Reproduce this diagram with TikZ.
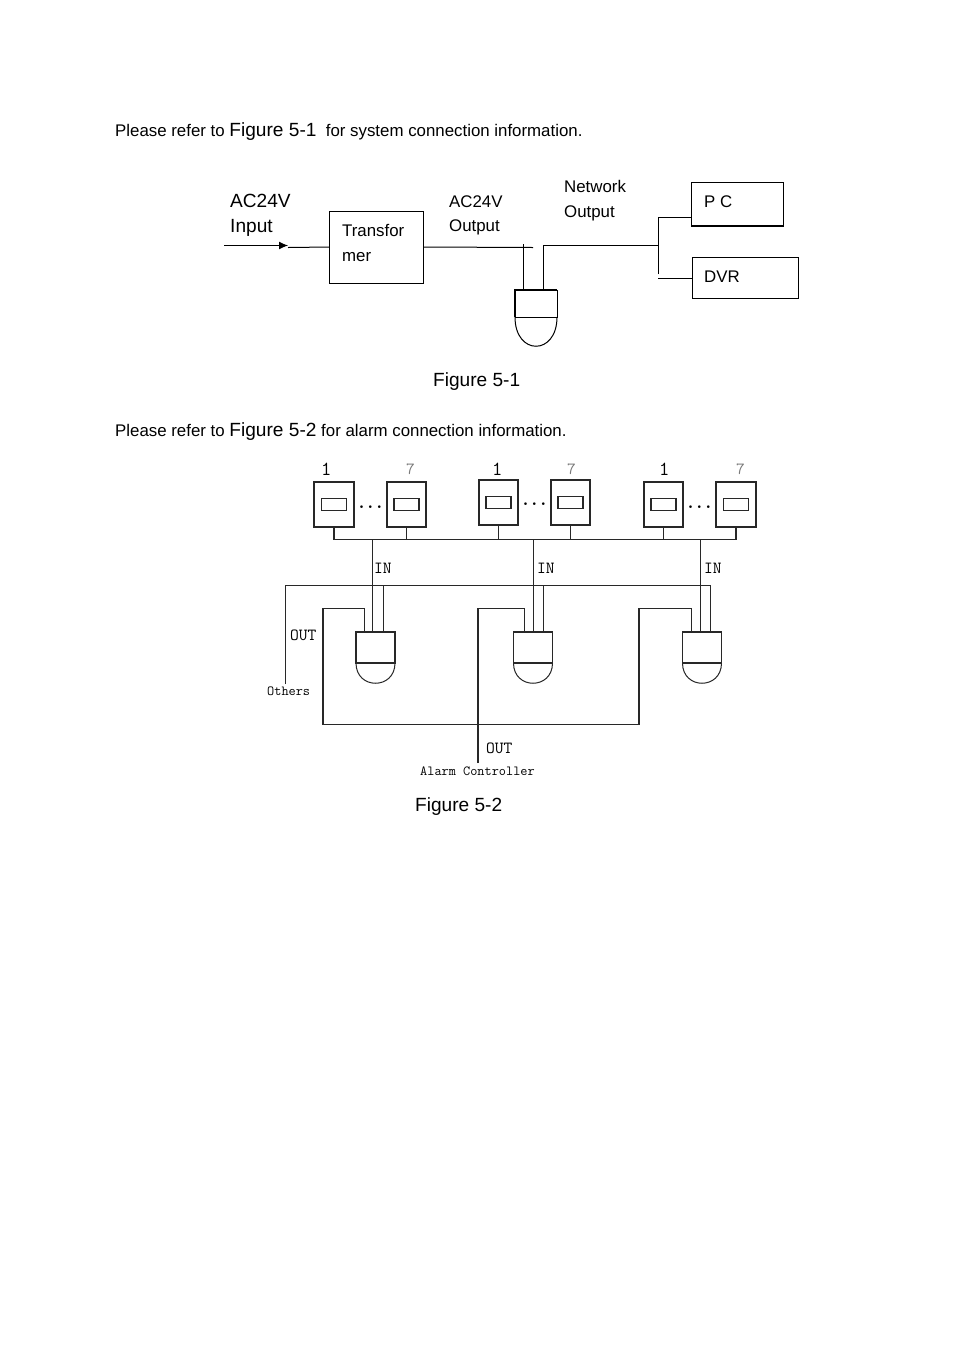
\documentclass[tikz,border=0pt]{standalone}
\usepackage{fontspec}
\usepackage{xcolor}
\usetikzlibrary{arrows.meta}
\setmainfont{Liberation Sans}
\definecolor{wire}{RGB}{40,40,40}
\definecolor{faint}{RGB}{120,120,120}
\newcommand{\bodysize}{\fontsize{16.85}{20}\selectfont}
\newcommand{\capsize}{\fontsize{19.1}{23}\selectfont}
\tikzset{
  box/.style={draw,inner sep=0pt,outer sep=0pt,line width=1pt},
  sensor/.style={box,wire,line width=1.3pt,minimum height=45},
  slot/.style={box,wire,line width=1.3pt,minimum width=25,minimum height=11.5},
  head/.style={box,wire,line width=1.3pt,minimum width=39,minimum height=31},
  wiring/.style={wire,line width=1.3pt},
  txt/.style={inner sep=0pt,anchor=base west,font=\bodysize},
  big/.style={inner sep=0pt,anchor=base west,font=\capsize},
  bitmap/.style={inner sep=0pt,anchor=base west,font=\ttfamily\fontsize{17}{20}\selectfont},
  digit/.style={inner sep=0pt,anchor=base west,font=\ttfamily\fontsize{20}{22}\selectfont},
  tiny/.style={inner sep=0pt,anchor=base west,font=\ttfamily\fontsize{13.9}{16}\selectfont},
  dots/.style={inner sep=0pt,font=\fontsize{19}{20}\selectfont\boldmath}
}

\begin{document}
\begin{tikzpicture}[x=1pt,y=-1pt]
\useasboundingbox[fill=white] (0,0) rectangle (954,1350);

% text lines
\node[txt] (line1) at (115,136) {Please refer to {\capsize Figure 5-1}\ \ for system connection information.};
\node[big] (cap1) at (433,386) {Figure 5-1};
\node[txt] (line2) at (115,436) {Please refer to {\capsize Figure 5-2} for alarm connection information.};
\node[big] (cap2) at (415,811) {Figure 5-2};

% Figure 5-1
\node[box,minimum width=94,minimum height=72] (xfmr) at (376.5,247) {};
\node[box,minimum width=92,minimum height=44] (pc) at (737,204) {};
\draw[line width=1.7pt] (pc.south west) -- (pc.south east);
\node[box,minimum width=106,minimum height=41] (dvr) at (745,277.5) {};
\node[box,minimum width=42,minimum height=27] (cam) at (536,303.5) {};
\draw[line width=1.7pt] (cam.south west) |- (cam.north east);
\draw[line width=1pt] (cam.south west) .. controls +(0,39) and +(0,39) .. (cam.south east);

\node[big] (acin) at (230,207) {AC24V};
\node[big] (inp) at (230,232) {Input};
\node[txt] (tr1) at (342,236) {Transfor};
\node[txt] (tr2) at (342,261) {mer};
\node[txt] (acout) at (449,207) {AC24V};
\node[txt] (acout2) at (449,231) {Output};
\node[txt] (net) at (564,192) {Network};
\node[txt] (net2) at (564,217) {Output};
\node[txt] (pclabel) at (704,207) {P C};
\node[txt] (dvrlabel) at (704,282) {DVR};

\coordinate (feed) at (224,245.5);
\coordinate (tip) at (288,245.5);
\coordinate (tail) at (288,247.5);
\coordinate (acend) at (533,247.5);
\coordinate (acdrop) at (523.5,244);
\coordinate (netdrop) at (543.5,245.5);
\coordinate (fork) at (658.5,245.5);
\coordinate (forktop) at (658.5,217.5);
\coordinate (forkbot) at (658.5,274);
\coordinate (dvrstub) at (658,278.5);

\draw[-{Latex[length=9,width=8]},line width=1pt] (feed) -- (tip);
\draw[line width=1pt] (tail) -- (xfmr.west);
\draw[line width=1pt] (xfmr.east) -- (acend);
\draw[line width=1pt] (acdrop) -- (acdrop |- cam.north);
\draw[line width=1pt] (cam.north -| netdrop) -- (netdrop) -- (fork);
\draw[line width=1pt] (forkbot) -- (forktop) -- (forktop -| pc.west);
\draw[line width=1pt] (dvrstub) -- (dvrstub -| dvr.west);

% Figure 5-2: sensors
\foreach \name/\x/\y/\w in {s1/334/504.5/40,s2/406.5/504.5/39,s3/498.5/502.5/39,s4/570.5/502.5/39,s5/663.5/504.5/39,s6/736/504.5/40}{
  \node[sensor,minimum width=\w] (\name) at (\x,\y) {};
  \node[slot] (\name slot) at (\name) {};
}
\node[dots] (dots1) at (370.5,507) {$\cdots$};
\node[dots] (dots2) at (534.5,504) {$\cdots$};
\node[dots] (dots3) at (699.5,507) {$\cdots$};

\node[digit] (n1) at (321,475) {1};
\node[digit] (n2) at (492,475) {1};
\node[digit] (n3) at (659,475) {1};
\node[bitmap,faint] (n4) at (406,474) {7};
\node[bitmap,faint] (n5) at (567,474) {7};
\node[bitmap,faint] (n6) at (736,474) {7};

% bus
\coordinate (bus) at (0,539.5);
\foreach \name in {s1,s2,s3,s4,s5,s6}
  \draw[wiring] (\name.south) -- (\name.south |- bus);
\draw[wiring] (s1.south |- bus) -- (s6.south |- bus);

% cameras, wires above them
\coordinate (othleft) at (285.5,684);
\coordinate (othright) at (710.5,585.5);
\draw[wiring] (othleft) |- (othright);
\foreach \i/\x/\a/\b/\c in {1/375.5/372.5/364.5/383.5,2/533/533.5/524.5/543.5,3/702/700.5/691.5/710.5}{
  \node[head] (head\i) at (\x,647.5) {};
  \draw[wire,line width=1pt] (head\i.south west) .. controls +(0,27) and +(0,27) .. (head\i.south east);
  \coordinate (in\i) at (\a,539.5);
  \coordinate (ret\i) at (\b,608.5);
  \coordinate (oth\i) at (\c,585.5);
  \draw[wiring] (in\i) -- (in\i |- head\i.north);
  \draw[wiring] (ret\i) -- (ret\i |- head\i.north);
  \draw[wiring] (oth\i) -- (oth\i |- head\i.north);
}

% alarm output loop
\coordinate (loopa) at (323,724.5);
\coordinate (loopb) at (639,724.5);
\coordinate (alarm) at (478,763);
\draw[wiring] (ret1) -| (loopa) -- (loopb) |- (ret3);
\draw[wiring] (alarm) |- (ret2);

\node[bitmap] (in1label) at (374,573) {IN};
\node[bitmap] (in2label) at (537,573) {IN};
\node[bitmap] (in3label) at (704,573) {IN};
\node[bitmap] (out1label) at (290,640) {OUT};
\node[bitmap] (out2label) at (486,753) {OUT};
\node[tiny] (others) at (267,695) {Others};
\node[tiny] (ctrl) at (420,775) {Alarm Controller};
\end{tikzpicture}
\end{document}
